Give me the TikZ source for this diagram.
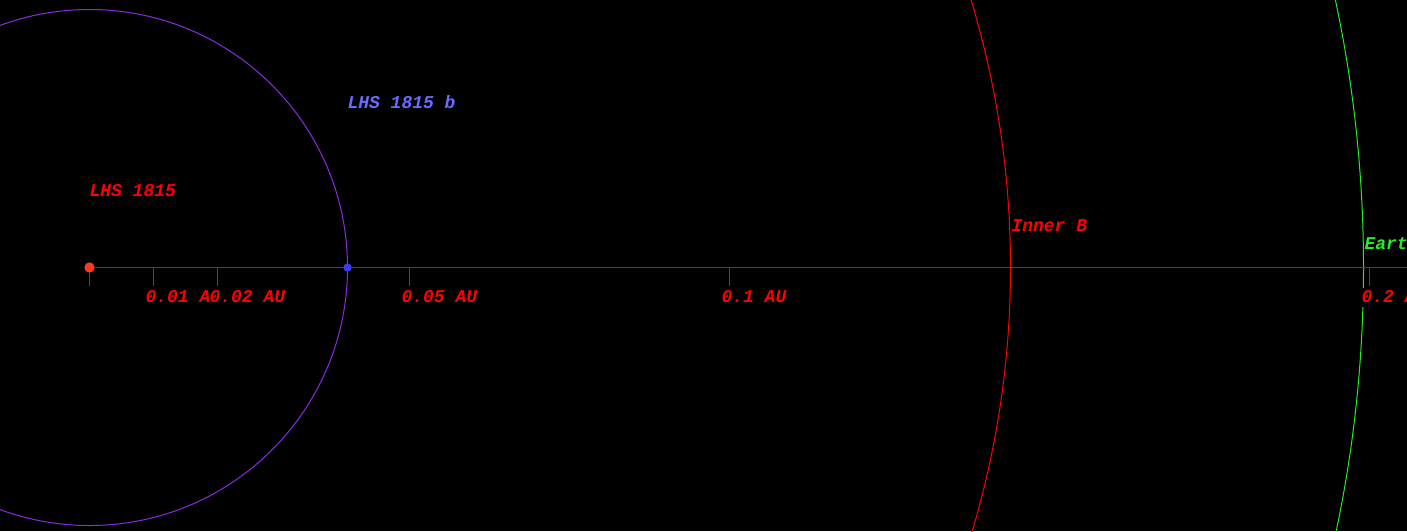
\documentclass[tikz,border=0pt]{standalone}
\usepackage{fontspec}
\newfontfamily\orbitfont{Liberation Mono}
\definecolor{starred}{HTML}{FF3A22}
\definecolor{axisred}{HTML}{F00000}
\definecolor{orbitviolet}{HTML}{8A2BE2}
\definecolor{planetblue}{HTML}{3A3AFF}
\definecolor{labelblue}{HTML}{6A6AFF}
\definecolor{hzgreen}{HTML}{22EE22}

\begin{document}
\begin{tikzpicture}[x=1pt, y=-1pt, line width=1pt,
	lbl/.style={anchor=base west, inner sep=0pt, fill=black, text height=14pt, text depth=5pt,
		font={\orbitfont\bfseries\itshape\fontsize{18}{18}\selectfont}},
	dot/.style={circle, inner sep=0pt, draw=none}]
		\fill[black] (0,0) rectangle (1407,531);
		\clip (0,0) rectangle (1407,531);

		\node[dot, fill=starred, minimum size=10pt](lhs) at (89.5,267.5){};
		\node[dot, fill=planetblue, minimum size=8pt](lhsb) at (347.5,267.5){};
		\coordinate (axisend) at (1407,267.5);

		% orbits round the star
		\draw[orbitviolet] (lhs.center) circle[radius=258];
		\draw[red] (lhs.center) circle[radius=921];
		\draw[hzgreen] (lhs.center) circle[radius=1274];

		% scale axis
		\draw[axisred] (lhs.center) -- (axisend);
		\draw[axisred] (lhs.center) -- ++(0,18);
		\foreach \x/\lab in {153/0.01 AU, 217/0.02 AU, 409/0.05 AU, 729/0.1 AU, 1369/0.2 AU}{
			\coordinate (tick\x) at (\x+0.5,267.5);
			\draw[axisred] (tick\x) -- ++(0,18);
			\node[lbl, text=red] at (\x-8,302) {\lab};
		}

		\node[dot, fill=planetblue, minimum size=8pt] at (lhsb) {};
		\node[dot, fill=starred, minimum size=10pt] at (lhs) {};

		% names
		\node[lbl, text=red](lhsname) at (89,196) {LHS 1815};
		\node[lbl, text=labelblue](lhsbname) at (347,108) {LHS 1815 b};
		\node[lbl, text=red](innername) at (1011,231) {Inner B};
		\node[lbl, text=hzgreen](earthname) at (1364,249) {Earth};
	\end{tikzpicture}
\end{document}
